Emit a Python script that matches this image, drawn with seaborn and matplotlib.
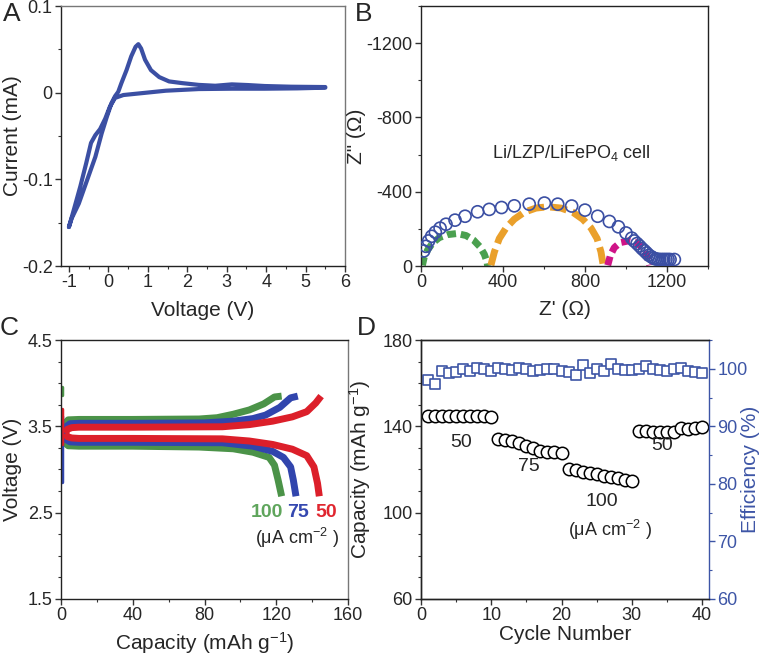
import numpy as np
import pandas as pd
import seaborn as sns
import matplotlib
matplotlib.use("Agg")
import matplotlib.pyplot as plt
from matplotlib.ticker import MultipleLocator

# ---- data ----
# A: cyclic voltammogram, one closed loop (anodic branch, then the return)
cv_v = [-1.0, -0.93, -0.75, -0.54, -0.33, -0.17, -0.04, 0.08, 0.17, 0.25, 0.33, 0.46, 0.58, 0.69,
        0.76, 0.83, 0.93, 1.08, 1.29, 1.54, 1.88, 2.29, 2.71, 3.13, 3.54, 3.96, 4.63, 5.5,
        5.5, 4.79, 3.96, 3.13, 2.29, 1.46, 0.79, 0.38, 0.17, 0.04, -0.08, -0.21, -0.33, -0.44,
        -0.56, -0.71, -0.875, -1.0]
cv_i = [-0.155, -0.145, -0.128, -0.101, -0.074, -0.047, -0.028, -0.012, -0.004, 0.001, 0.011, 0.026,
        0.042, 0.053, 0.056, 0.051, 0.038, 0.026, 0.018, 0.013, 0.011, 0.009, 0.008, 0.0096, 0.0088,
        0.0077, 0.0069, 0.0065, 0.0058, 0.005, 0.0046, 0.0046, 0.0042, 0.0023, -0.0008, -0.0027,
        -0.0060, -0.016, -0.030, -0.042, -0.049, -0.058, -0.081, -0.108, -0.135, -0.155]

# B: impedance spectrum + fitted arcs
z_re = [13, 24, 37, 52, 70, 93, 122, 166, 215, 276, 333, 393, 455, 528, 602, 667, 735, 800, 862,
        919, 963, 1000, 1028, 1040, 1054, 1066, 1078, 1090, 1101, 1112, 1125, 1135, 1145, 1155,
        1165, 1175, 1185, 1195, 1205, 1215, 1236]
z_im = [81, 106, 135, 160, 182, 204, 225, 247, 268, 292, 305, 315, 324, 333, 339, 333, 323, 301, 268,
        240, 211, 178, 150, 135, 121, 108, 94, 82, 70, 58, 49, 42, 38, 36, 35, 35, 35, 35, 35, 35, 35]
arc1_re = [7, 16, 33, 57, 89, 130, 176, 220, 257, 288, 309, 322, 325]
arc1_im = [4, 49, 88, 124, 153, 169, 175, 164, 139, 103, 63, 22, 0]
arc2_re = [341, 358, 382, 415, 455, 504, 561, 618, 683, 740, 789, 829, 859, 878, 889]
arc2_im = [4, 76, 148, 205, 252, 290, 312, 319, 312, 290, 252, 205, 148, 76, 4]
arc3_re = [911, 924, 943, 972, 1011, 1049, 1081, 1102, 1115]
arc3_im = [4, 58, 99, 126, 135, 126, 99, 58, 4]

# C: charge / discharge profiles at 100, 75, 50 uA cm-2
rates = ["100", "75", "50"]
chg_cap = {"100": [0.8, 1.5, 4, 10, 40, 77, 87, 96, 105, 113, 119, 123],
           "75": [1.5, 2.5, 5, 10, 40, 80, 96, 107, 114, 122, 128, 132],
           "50": [2.5, 3.5, 6, 10, 40, 90, 105, 118, 129, 137, 142, 145]}
chg_v = {"100": [3.42, 3.52, 3.575, 3.58, 3.58, 3.585, 3.60, 3.64, 3.69, 3.76, 3.84, 3.85],
         "75": [3.42, 3.49, 3.53, 3.535, 3.535, 3.54, 3.56, 3.59, 3.63, 3.72, 3.83, 3.85],
         "50": [3.42, 3.465, 3.485, 3.49, 3.49, 3.495, 3.52, 3.56, 3.61, 3.67, 3.77, 3.85]}
dis_cap = {"100": [0.8, 1.5, 4, 10, 40, 77, 96, 107, 116, 119, 121, 123],
           "75": [1.5, 2.5, 5, 10, 40, 90, 107, 118, 124, 128, 129.5, 131],
           "50": [2.5, 3.5, 6, 10, 40, 90, 105, 118, 129, 137, 141, 143, 144]}
dis_v = {"100": [3.42, 3.32, 3.275, 3.27, 3.27, 3.26, 3.24, 3.20, 3.14, 3.05, 2.88, 2.69],
         "75": [3.42, 3.35, 3.32, 3.315, 3.315, 3.31, 3.27, 3.21, 3.14, 3.03, 2.88, 2.69],
         "50": [3.42, 3.38, 3.365, 3.36, 3.36, 3.355, 3.33, 3.29, 3.235, 3.16, 3.03, 2.84, 2.69]}
rest_cap = {"100": [0.8, 0.8], "75": [0.4, 0.4], "50": [0.7, 0.7]}
rest_v = {"100": [3.95, 3.86], "75": [3.62, 2.85], "50": [3.70, 3.30]}

# D: cycling
cycles = list(range(1, 41))
capacity = [145, 145, 145, 145, 145, 145, 145, 145, 145, 144.5,
            134.1, 133.8, 133.4, 132.5, 131.0, 129.9, 128.8, 128.1, 127.9, 127.6,
            120.2, 119.6, 119.0, 118.3, 117.7, 117.1, 116.5, 115.9, 115.3, 114.8,
            137.9, 137.9, 137.6, 137.3, 137.3, 137.6, 139.2, 138.7, 139.2, 139.5]
efficiency = [98.0, 97.3, 99.6, 99.3, 99.4, 99.9, 99.6, 100.2, 100.0, 99.6,
              100.2, 99.9, 99.8, 100.2, 99.9, 99.6, 99.8, 100.0, 100.0, 99.6,
              99.4, 99.0, 100.6, 99.2, 99.9, 99.6, 100.9, 99.9, 99.8, 99.8,
              99.9, 100.5, 100.0, 99.8, 99.6, 100.0, 100.2, 99.6, 99.4, 99.2]

# ---- style ----
sns.set_theme(style="ticks")
plt.rcParams['font.family'] = ['Liberation Sans', 'DejaVu Sans']
plt.rcParams['mathtext.default'] = 'regular'
plt.rcParams['axes.unicode_minus'] = False
plt.rcParams['axes.linewidth'] = 1.0

blue = "#3b4fa3"
green = "#4b9348"
cblue = "#3145ad"
red = "#dc1f2a"
effblue = "#3d55a6"
cols = {"100": green, "75": cblue, "50": red}
lab_cols = {"100": "#5fa55c", "75": "#3548b0", "50": "#e0262f"}
TFS = 13
LFS = 15


def style(ax):
    ax.tick_params(which="major", direction="out", length=4, width=1, labelsize=TFS, pad=2, color="#333333")
    ax.tick_params(which="minor", direction="out", length=2.5, width=0.8, color="#333333")
    for s in ax.spines.values():
        s.set_color("#222222")


fig = plt.figure(figsize=(7.62, 6.56), dpi=100)
axA = fig.add_axes([0.0801, 0.5945, 0.3727, 0.3963])
axB = fig.add_axes([0.5525, 0.5945, 0.3766, 0.3963])
axC = fig.add_axes([0.0801, 0.0869, 0.3766, 0.3948])
axD = fig.add_axes([0.5525, 0.0869, 0.3780, 0.3948])

# A
sns.lineplot(x=cv_v, y=cv_i, sort=False, estimator=None, ax=axA, color=blue, linewidth=3)
axA.set_xlim(-1.2, 6)
axA.set_ylim(-0.2, 0.1)
axA.set_xticks([-1, 0, 1, 2, 3, 4, 5, 6])
axA.set_yticks([-0.2, -0.1, 0, 0.1])
axA.set_yticklabels(["-0.2", "-0.1", "0", "0.1"])
axA.xaxis.set_minor_locator(MultipleLocator(0.5))
axA.yaxis.set_minor_locator(MultipleLocator(0.05))
axA.set_xlabel("Voltage (V)", fontsize=LFS)
axA.set_ylabel("Current (mA)", fontsize=LFS)
axA.xaxis.set_label_coords(0.5, -0.135)
axA.yaxis.set_label_coords(-0.138, 0.5)
style(axA)
for s in ["top", "right"]:
    axA.spines[s].set_color("#777777")

# B
sns.lineplot(x=arc1_re, y=[-v for v in arc1_im], sort=False, estimator=None, ax=axB,
             color="#4aa04f", linewidth=5)
axB.lines[-1].set_dashes([1.3, 0.7])
sns.lineplot(x=arc2_re, y=[-v for v in arc2_im], sort=False, estimator=None, ax=axB,
             color="#eaa02b", linewidth=5)
axB.lines[-1].set_dashes([2.4, 0.9])
sns.lineplot(x=arc3_re, y=[-v for v in arc3_im], sort=False, estimator=None, ax=axB,
             color="#cf1487", linewidth=5)
axB.lines[-1].set_dashes([1.3, 0.7])
sns.scatterplot(x=z_re, y=[-v for v in z_im], ax=axB, s=75, facecolor="none",
                edgecolor=blue, linewidth=1.2, zorder=3)
axB.set_xlim(0, 1400)
axB.set_ylim(0, -1400)
axB.set_xticks([0, 400, 800, 1200])
axB.set_yticks([0, -400, -800, -1200])
axB.set_yticklabels(["0", "-400", "-800", "-1200"])
axB.xaxis.set_minor_locator(MultipleLocator(200))
axB.yaxis.set_minor_locator(MultipleLocator(200))
axB.set_xlabel("Z' (Ω)", fontsize=LFS)
axB.set_ylabel('Z" (Ω)', fontsize=LFS)
axB.xaxis.set_label_coords(0.5, -0.13)
axB.yaxis.set_label_coords(-0.19, 0.5)
axB.text(732, -607, "Li/LZP/LiFePO$_4$ cell", fontsize=13, ha="center", va="center")
style(axB)

# C
for r in rates:
    c = cols[r]
    sns.lineplot(x=rest_cap[r], y=rest_v[r], sort=False, estimator=None, ax=axC, color=c, linewidth=2.5)
    for xs, ys in [(chg_cap[r], chg_v[r]), (dis_cap[r], dis_v[r])]:
        sns.lineplot(x=xs, y=ys, sort=False, estimator=None, ax=axC, color=c, linewidth=5)
        axC.lines[-1].set_solid_capstyle("butt")
        axC.lines[-1].set_solid_joinstyle("round")
axC.set_xlim(0, 160)
axC.set_ylim(1.5, 4.5)
axC.set_xticks([0, 40, 80, 120, 160])
axC.set_yticks([1.5, 2.5, 3.5, 4.5])
axC.xaxis.set_minor_locator(MultipleLocator(20))
axC.yaxis.set_minor_locator(MultipleLocator(0.25))
axC.set_xlabel("Capacity (mAh g$^{-1}$)", fontsize=LFS)
axC.set_ylabel("Voltage (V)", fontsize=LFS)
axC.xaxis.set_label_coords(0.5, -0.12)
axC.yaxis.set_label_coords(-0.137, 0.5)
for r, xc in zip(rates, [114.8, 132.1, 147.7]):
    axC.text(xc, 2.5, r, color=lab_cols[r], fontsize=14, ha="center", va="center", fontweight="bold")
axC.text(131.6, 2.21, "(μA cm$^{-2}$ )", fontsize=13, ha="center", va="center")
style(axC)
axC.spines["right"].set_color("#777777")

# D
axD2 = axD.twinx()
axD2.set_position([0.5525, 0.0869, 0.3780, 0.3948])
sns.scatterplot(x=cycles, y=efficiency, ax=axD2, marker="s", s=60, facecolor="white",
                edgecolor=effblue, linewidth=1.2)
sns.scatterplot(x=cycles, y=capacity, ax=axD, s=80, facecolor="white",
                edgecolor="black", linewidth=1.1)
axD.set_xlim(0, 41)
axD.set_ylim(60, 180)
axD.set_xticks([0, 10, 20, 30, 40])
axD.set_yticks([60, 100, 140, 180])
axD.xaxis.set_minor_locator(MultipleLocator(5))
axD.yaxis.set_minor_locator(MultipleLocator(10))
axD.set_xlabel("Cycle Number", fontsize=LFS)
axD.set_ylabel("Capacity (mAh g$^{-1}$)", fontsize=LFS)
axD.xaxis.set_label_coords(0.5, -0.10)
axD.yaxis.set_label_coords(-0.167, 0.5)
axD2.set_ylim(60, 105)
axD2.set_yticks([60, 70, 80, 90, 100])
axD2.yaxis.set_minor_locator(MultipleLocator(5))
axD2.set_ylabel("Efficiency (%)", fontsize=LFS, color=effblue)
axD2.yaxis.set_label_coords(1.11, 0.5)
style(axD)
style(axD2)
axD2.tick_params(axis="y", which="both", colors=effblue, labelcolor=effblue)
axD2.spines["right"].set_color(effblue)
axD.spines["right"].set_visible(False)
axD.text(5.7, 132.7, "50", fontsize=14, ha="center", va="center")
axD.text(15.3, 121.2, "75", fontsize=14, ha="center", va="center")
axD.text(25.7, 105.4, "100", fontsize=14, ha="center", va="center")
axD.text(26.9, 92, "(μA cm$^{-2}$ )", fontsize=13, ha="center", va="center")
axD.text(34.3, 130.9, "50", fontsize=14, ha="center", va="center")

# panel letters
for lab, (px, py) in zip("ABCD", [(12, 14), (364, 14), (9, 328), (366, 328)]):
    fig.text(px / 762, 1 - py / 656, lab, fontsize=19, ha="center", va="center")

fig.savefig("out.png", dpi=100)
